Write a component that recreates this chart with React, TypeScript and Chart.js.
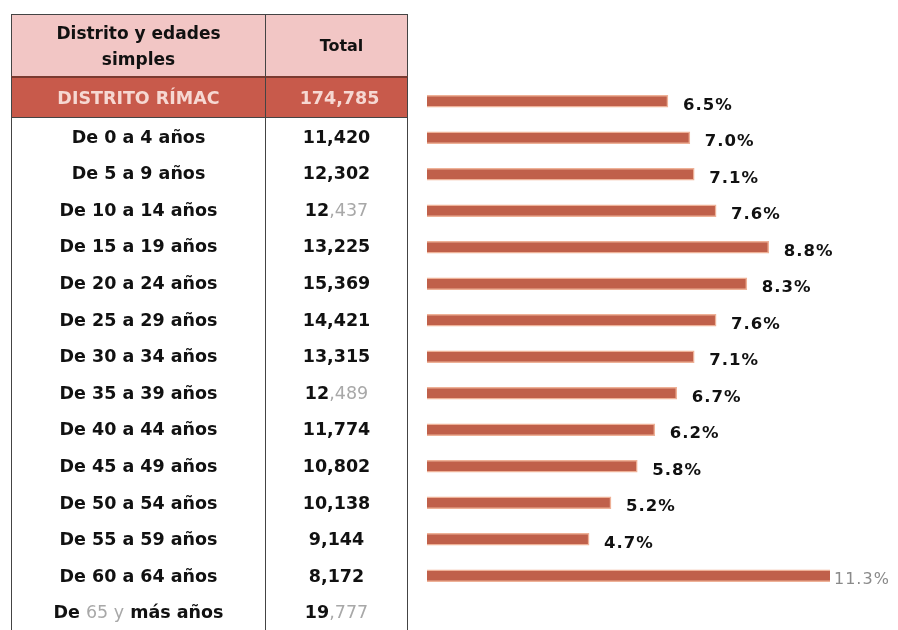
import React, { useEffect, useRef } from "react";
import { Chart, registerables } from "chart.js";

Chart.register(...registerables);

const tableHeaderLeft = ["Distrito y edades", "simples"];
const tableHeaderRight = "Total";
const districtName = "DISTRITO RÍMAC";
const districtTotal = "174,785";

const ageGroups = [
  "De 0 a 4 años",
  "De 5 a 9 años",
  "De 10 a 14 años",
  "De 15 a 19 años",
  "De 20 a 24 años",
  "De 25 a 29 años",
  "De 30 a 34 años",
  "De 35 a 39 años",
  "De 40 a 44 años",
  "De 45 a 49 años",
  "De 50 a 54 años",
  "De 55 a 59 años",
  "De 60 a 64 años",
  "De 65 y más años",
];

const totals = [
  "11,420", "12,302", "12,437", "13,225", "15,369", "14,421", "13,315",
  "12,489", "11,774", "10,802", "10,138", "9,144", "8,172", "19,777",
];

const percents = [6.5, 7.0, 7.1, 7.6, 8.8, 8.3, 7.6, 7.1, 6.7, 6.2, 5.8, 5.2, 4.7, 11.3];

const W = 898;
const H = 630;

const labelPlugin = {
  id: "barLabels",
  afterDatasetsDraw(chart: any) {
    const { ctx, chartArea } = chart;
    const meta = chart.getDatasetMeta(0);
    const data = chart.data.datasets[0].data as number[];
    const xMax = chart.scales.x.max;
    ctx.save();
    ctx.textBaseline = "middle";
    ctx.textAlign = "left";
    meta.data.forEach((bar: any, i: number) => {
      const v = data[i];
      const txt = v.toFixed(1) + "%";
      let x: number;
      if (v > xMax) {
        x = chartArea.right + 4;
        ctx.fillStyle = "#8a8a8a";
        ctx.font = "16px 'DejaVu Sans'";
      } else {
        x = bar.x + 15;
        ctx.fillStyle = "#111";
        ctx.font = "bold 16.5px 'DejaVu Sans'";
      }
      try {
        (ctx as any).letterSpacing = "1px";
      } catch (e) {}
      ctx.fillText(txt, x, bar.y + 4);
    });
    ctx.restore();
  },
};

function BarChart() {
  const ref = useRef<HTMLCanvasElement | null>(null);
  useEffect(() => {
    if (!ref.current) return;
    const chart = new Chart(ref.current, {
      type: "bar",
      data: {
        labels: ageGroups,
        datasets: [
          {
            data: percents,
            backgroundColor: "#c0604a",
            borderColor: "rgba(236,168,140,0.9)",
            borderWidth: 1.5,
            borderSkipped: false,
            barThickness: 12,
            clip: 0,
          } as any,
        ],
      },
      options: {
        indexAxis: "y",
        responsive: false,
        animation: false,
        layout: { padding: { left: 427, right: 68, top: 83, bottom: 36 } },
        plugins: {
          legend: { display: false },
          tooltip: { enabled: false },
          title: { display: false },
        },
        scales: {
          x: { display: false, min: 1, max: 10.2 },
          y: { display: false },
        },
      },
      plugins: [labelPlugin],
    });
    return () => chart.destroy();
  }, []);
  return (
    <canvas
      ref={ref}
      width={W}
      height={H}
      style={{ position: "absolute", left: 0, top: 0, width: W, height: H }}
    />
  );
}

const GRID = "1.5px solid #444";
const COL1 = 255;
const COL2 = 142;
const ROW_TOP = 118;
const ROW_H = 36.6;
const GRAY = "#a8a8a8";

function renderAge(i: number) {
  const s = ageGroups[i];
  if (i === ageGroups.length - 1) {
    return (
      <span>
        {s.slice(0, 3)}
        <span style={{ color: GRAY, fontWeight: "normal" }}>{s.slice(3, 7)}</span>
        {s.slice(7)}
      </span>
    );
  }
  return <span>{s}</span>;
}

function renderTotal(i: number) {
  const t = totals[i];
  if (i === 2 || i === 7 || i === 13) {
    return (
      <span>
        {t.slice(0, 2)}
        <span style={{ color: GRAY, fontWeight: "normal" }}>{t.slice(2)}</span>
      </span>
    );
  }
  return <span>{t}</span>;
}

function Table() {
  const font = "'DejaVu Sans', sans-serif";
  const cellBase: React.CSSProperties = {
    position: "absolute",
    display: "flex",
    alignItems: "center",
    justifyContent: "center",
    boxSizing: "border-box",
    fontFamily: font,
    whiteSpace: "pre",
  };
  const left = 11;
  return (
    <div style={{ position: "absolute", left: 0, top: 0, width: W, height: H }}>
      <div
        style={{
          ...cellBase,
          left,
          top: 14,
          width: COL1,
          height: 62,
          background: "#f2c6c5",
          borderTop: GRID,
          borderLeft: GRID,
          borderRight: GRID,
          flexDirection: "column",
          fontWeight: "bold",
          fontSize: 17,
          lineHeight: "26px",
          color: "#111",
        }}
      >
        <div>{tableHeaderLeft[0]}</div>
        <div>{tableHeaderLeft[1]}</div>
      </div>
      <div
        style={{
          ...cellBase,
          left: left + COL1,
          top: 14,
          width: COL2,
          height: 62,
          background: "#f2c6c5",
          borderTop: GRID,
          borderRight: GRID,
          fontWeight: "bold",
          fontSize: 16,
          color: "#111",
          paddingLeft: 10,
        }}
      >
        {tableHeaderRight}
      </div>
      <div
        style={{
          ...cellBase,
          left,
          top: 76,
          width: COL1,
          height: 42,
          background: "#c85a4b",
          borderTop: "2px solid #7a3a30",
          borderLeft: GRID,
          borderRight: GRID,
          borderBottom: GRID,
          fontSize: 17.5,
          fontWeight: "bold",
          color: "#f6d8d2",
        }}
      >
        {districtName}
      </div>
      <div
        style={{
          ...cellBase,
          left: left + COL1,
          top: 76,
          width: COL2,
          height: 42,
          background: "#c85a4b",
          borderTop: "2px solid #7a3a30",
          borderRight: GRID,
          borderBottom: GRID,
          fontSize: 17.5,
          fontWeight: "bold",
          color: "#f6d8d2",
          paddingLeft: 6,
        }}
      >
        {districtTotal}
      </div>
      {ageGroups.map((_, i) => (
        <React.Fragment key={i}>
          <div
            style={{
              ...cellBase,
              left,
              top: ROW_TOP + i * ROW_H,
              width: COL1,
              height: ROW_H + 1.5,
              background: "#fff",
              borderLeft: GRID,
              borderRight: GRID,
              borderBottom: GRID,
              fontSize: 17.5,
              fontWeight: "bold",
              color: "#111",
            }}
          >
            {renderAge(i)}
          </div>
          <div
            style={{
              ...cellBase,
              left: left + COL1,
              top: ROW_TOP + i * ROW_H,
              width: COL2,
              height: ROW_H + 1.5,
              background: "#fff",
              borderRight: GRID,
              borderBottom: GRID,
              fontSize: 17.5,
              fontWeight: "bold",
              color: "#111",
            }}
          >
            {renderTotal(i)}
          </div>
        </React.Fragment>
      ))}
    </div>
  );
}

export default function App() {
  return (
    <div
      style={{
        position: "fixed",
        left: 0,
        top: 0,
        width: W,
        height: H,
        background: "#fff",
        overflow: "hidden",
      }}
    >
      <BarChart />
      <Table />
    </div>
  );
}
